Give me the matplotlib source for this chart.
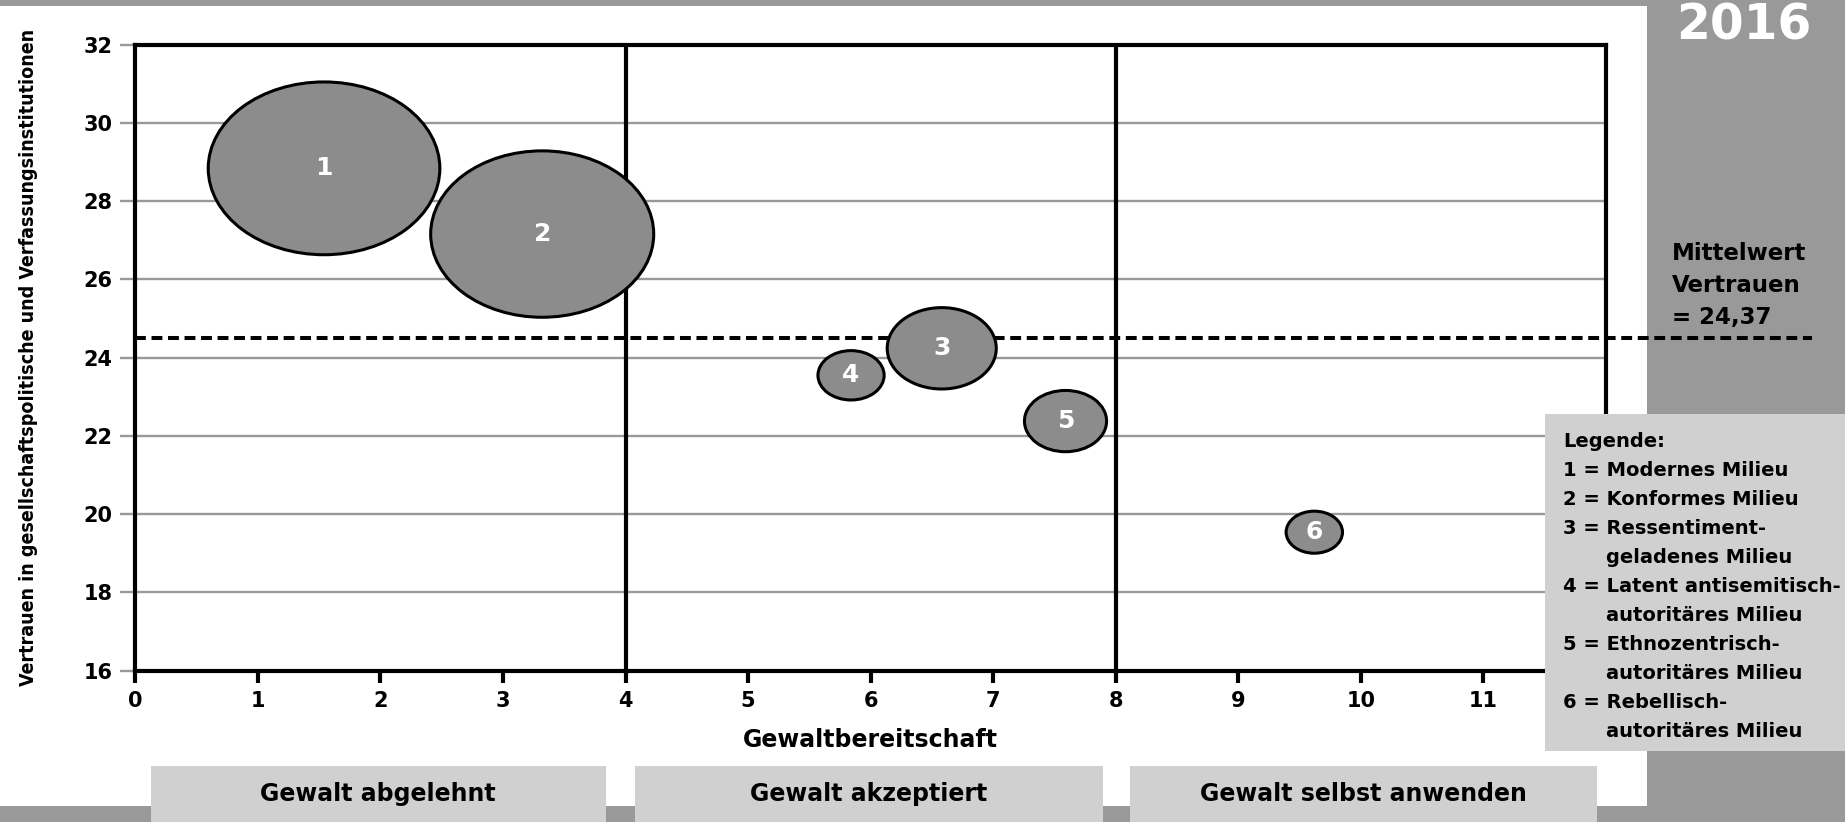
import numpy as np
import matplotlib
matplotlib.use("Agg")
from matplotlib import pyplot as plt
from matplotlib import font_manager as fm
from matplotlib.patches import Ellipse, Rectangle

# ---------------- data ----------------
milieu_ids = [1, 2, 3, 4, 5, 6]
gewalt = [1.54, 3.32, 6.58, 5.84, 7.59, 9.62]          # Gewaltbereitschaft
vertrauen = [28.84, 27.16, 24.24, 23.55, 22.38, 19.54]  # Vertrauen
bubble_size = [1.89, 1.82, 0.89, 0.54, 0.67, 0.46]      # bubble width in x units

mean_vertrauen = 24.5
mean_label = "Mittelwert\nVertrauen\n= 24,37"
group_bounds = [4, 8]
group_labels = ["Gewalt abgelehnt", "Gewalt akzeptiert", "Gewalt selbst anwenden"]
legend_rows = [
    "1 = Modernes Milieu",
    "2 = Konformes Milieu",
    "3 = Ressentiment-",
    "geladenes Milieu",
    "4 = Latent antisemitisch-",
    "autoritäres Milieu",
    "5 = Ethnozentrisch-",
    "autoritäres Milieu",
    "6 = Rebellisch-",
    "autoritäres Milieu",
]
x_ticks = list(range(0, 13))
x_ticklabels = [str(v) for v in range(0, 12)] + [""]  # 12 sits under the legend box
y_ticks = list(range(16, 33, 2))

# ---------------- style ----------------
W, H = 1845, 822
PANEL = "#999999"
LIGHT = "#d0d0d0"
BUBBLE = "#8c8c8c"
BOLD = ["DejaVu Sans"]


def narrow_bold_font():
    # look for an installed condensed / narrow bold face for the y label
    best = None
    for f in fm.fontManager.ttflist:
        name = f.name + " " + f.fname
        narrow = ("Narrow" in name or "Condensed" in name or
                  f.stretch in ("condensed", "semi-condensed", "extra-condensed"))
        if not narrow:
            continue
        w = f.weight if isinstance(f.weight, int) else 400
        if "Bold" in f.fname and "Semi" not in f.fname and "Extra" not in f.fname:
            w = 700
        if "Italic" in f.fname or "Oblique" in f.fname:
            continue
        score = abs(w - 700)
        if best is None or score < best[0]:
            best = (score, f.fname)
    if best is not None:
        return fm.FontProperties(fname=best[1])
    return fm.FontProperties(family="Roboto", weight="bold")


fig = plt.figure(figsize=(W / 100, H / 100), dpi=100)
fig.patch.set_facecolor("white")

ax_left, ax_right = 135.3 / W, 1606 / W
ax_top, ax_bottom = 1 - 44.7 / H, 1 - 670.7 / H
ax = fig.add_axes([ax_left, ax_bottom, ax_right - ax_left, ax_top - ax_bottom])
ax.set_xlim(0, 12)
ax.set_ylim(16, 32)

# gridlines and group separators
ax.set_yticks(y_ticks)
ax.set_xticks(x_ticks)
ax.set_xticklabels(x_ticklabels)
ax.grid(axis="y", color=PANEL, linewidth=1.7, zorder=0)
ax.grid(axis="x", visible=False)
ax.set_axisbelow(True)
for b in group_bounds:
    ax.axvline(b, color="black", linewidth=3, zorder=1)

for s in ax.spines.values():
    s.set_linewidth(3)
    s.set_color("black")
    s.set_zorder(1)

ax.tick_params(axis="y", colors=PANEL, length=10.8, width=1.7, pad=5.8,
               labelcolor="black", labelsize=15)
ax.tick_params(axis="x", colors="black", length=8.4, width=3, pad=6,
               labelsize=15)
for lab in ax.get_xticklabels() + ax.get_yticklabels():
    lab.set_fontweight("bold")
    lab.set_family(BOLD)

# mean line, reaching into the side panel
ax.plot([0, 13.68], [mean_vertrauen, mean_vertrauen], color="black",
        linewidth=2.9, dashes=[2.7, 1.4], clip_on=False, zorder=2)

# bubbles: keep the pixel aspect of the reference (height = 0.746 * width)
px_per_x = (ax_right - ax_left) * W / 12
px_per_y = (ax_top - ax_bottom) * H / 16
for i, x, y, s in zip(milieu_ids, gewalt, vertrauen, bubble_size):
    h = s * px_per_x * 0.746 / px_per_y
    ax.add_patch(Ellipse((x, y), s, h, facecolor=BUBBLE, edgecolor="black",
                         linewidth=2.2, zorder=3))
    ax.text(x, y, str(i), color="white", fontsize=18, fontweight="bold",
            family=BOLD, ha="center", va="center", zorder=4)

ax.set_xlabel("Gewaltbereitschaft", fontsize=17, fontweight="bold", family=BOLD)
ax.xaxis.set_label_coords(0.5, -0.091)

ylab = ax.set_ylabel("Vertrauen in gesellschaftspolitische und Verfassungsinstitutionen")
fp = narrow_bold_font()
fp.set_size(20)
ylab.set_fontproperties(fp)
ylab.set_va("center")
ax.yaxis.set_label_coords(-0.0727, 0.5)
# fit the label length to the reference (about 655 px)
fig.canvas.draw()
ext = ylab.get_window_extent(fig.canvas.get_renderer())
fp.set_size(min(24, 20 * 655 / ext.height))
ylab.set_fontproperties(fp)

# ---------------- frame decoration ----------------
fig.add_artist(Rectangle((0, 1 - 6 / H), 1, 6 / H, transform=fig.transFigure,
                         facecolor=PANEL, edgecolor="none", zorder=-1))
fig.add_artist(Rectangle((1647 / W, 0), 1 - 1647 / W, 1, transform=fig.transFigure,
                         facecolor=PANEL, edgecolor="none", zorder=-1))
fig.add_artist(Rectangle((0, 0), 1, 16 / H, transform=fig.transFigure,
                         facecolor=PANEL, edgecolor="none", zorder=-1))

box_x = [(150.6, 606), (635.4, 1102.6), (1129.6, 1596.8)]
for (x0, x1), lab in zip(box_x, group_labels):
    fig.add_artist(Rectangle((x0 / W, 0), (x1 - x0) / W, 1 - 766 / H,
                             transform=fig.transFigure, facecolor=LIGHT,
                             edgecolor="none", zorder=2))
    fig.text((x0 + x1) / 2 / W, 1 - 794 / H, lab, fontsize=17, fontweight="bold",
             family=BOLD, ha="center", va="center", zorder=3)

fig.text(1744 / W, 1 - 39 / H, "2016", color="white", fontsize=35,
         fontweight="bold", family=BOLD, ha="center", va="baseline", zorder=3)

for k, line in enumerate(mean_label.split("\n")):
    fig.text(1672 / W, 1 - (253 + 32.3 * k) / H, line, fontsize=16.5,
             fontweight="bold", family=BOLD, ha="left", va="center", zorder=3)

# legend box
fig.add_artist(Rectangle((1545 / W, 1 - 751 / H), 1 - 1545 / W, (751 - 414) / H,
                         transform=fig.transFigure, facecolor=LIGHT,
                         edgecolor="none", zorder=2))
fig.text(1563 / W, 1 - 441.3 / H, "Legende:", fontsize=14, fontweight="bold",
         family=BOLD, ha="left", va="center", zorder=3)
for k, row in enumerate(legend_rows):
    yy = 1 - (441.3 + 29.06 * (k + 1)) / H
    xx = 1563 / W if row[0].isdigit() else 1606 / W
    fig.text(xx, yy, row, fontsize=14, fontweight="bold",
             family=BOLD, ha="left", va="center", zorder=3)

fig.savefig("out.png", dpi=100)
